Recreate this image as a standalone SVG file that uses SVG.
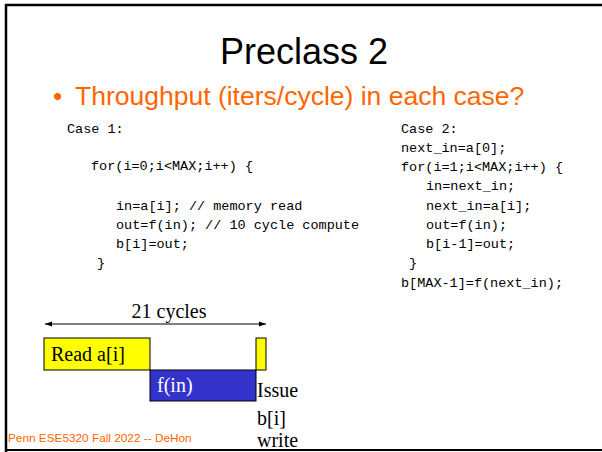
<svg xmlns="http://www.w3.org/2000/svg" width="602" height="452" viewBox="0 0 602 452">
<defs>
<style>
.code{font-family:"Liberation Mono","Courier New",monospace;font-size:13.5px;fill:#000;white-space:pre}
.ser{font-family:"Liberation Serif","Times New Roman",serif;font-size:20px;fill:#000}
.box{stroke:#000;stroke-width:1}
</style>
<marker id="ah" viewBox="0 0 10 10" refX="10" refY="5" markerWidth="7" markerHeight="7" orient="auto-start-reverse" markerUnits="userSpaceOnUse">
<path d="M0,1.5 L10,5 L0,8.5 z" fill="#000"/>
</marker>
</defs>
<rect width="602" height="452" fill="#fff"/>
<path d="M6,452 V5 H602" fill="none" stroke="#000" stroke-width="2.5"/>
<line x1="5" y1="450" x2="602" y2="450" stroke="#000" stroke-width="2"/>

<g id="title">
<text x="304" y="64" text-anchor="middle" font-family="Liberation Sans, Arial, sans-serif" font-size="36" fill="#000">Preclass 2</text>
</g>
<g id="bullet">
<text x="53" y="105" font-family="Liberation Sans, Arial, sans-serif" font-size="26.5" fill="#FF6600">•</text>
<text x="75" y="105" font-family="Liberation Sans, Arial, sans-serif" font-size="26.5" fill="#FF6600">Throughput (iters/cycle) in each case?</text>
</g>

<g id="case1">
<text class="code" x="67" y="133">Case 1:</text>
<text class="code" x="91" y="170">for(i=0;i&lt;MAX;i++) {</text>
<text class="code" x="116" y="210">in=a[i]; // memory read</text>
<text class="code" x="116" y="229">out=f(in); // 10 cycle compute</text>
<text class="code" x="116" y="248">b[i]=out;</text>
<text class="code" x="97" y="267">}</text>
</g>

<g id="case2">
<text class="code" x="401" y="133">Case 2:</text>
<text class="code" x="401" y="152">next_in=a[0];</text>
<text class="code" x="401" y="171">for(i=1;i&lt;MAX;i++) {</text>
<text class="code" x="426" y="190">in=next_in;</text>
<text class="code" x="426" y="210">next_in=a[i];</text>
<text class="code" x="426" y="229">out=f(in);</text>
<text class="code" x="426" y="248">b[i-1]=out;</text>
<text class="code" x="409" y="267">}</text>
<text class="code" x="401" y="287">b[MAX-1]=f(next_in);</text>
</g>

<g id="connectors">
<line x1="45" y1="324" x2="266" y2="324" stroke="#000" stroke-width="1" marker-start="url(#ah)" marker-end="url(#ah)"/>
</g>
<g id="cycles-label">
<text class="ser" x="169" y="318" text-anchor="middle">21 cycles</text>
</g>

<g id="read">
<rect class="box" x="44" y="338" width="106" height="32" fill="#FFFF00"/>
<text class="ser" x="51" y="361">Read a[i]</text>
</g>
<g id="compute">
<rect class="box" x="150" y="370" width="106" height="31" fill="#3333CC"/>
<text class="ser" x="157" y="392" fill="#fff" style="fill:#fff">f(in)</text>
</g>
<g id="write">
<rect class="box" x="256" y="338" width="10" height="32" fill="#FFFF00"/>
<text class="ser" x="257" y="397">Issue</text>
<text class="ser" x="257" y="425">b[i]</text>
<text class="ser" x="257" y="447">write</text>
</g>

<g id="footer">
<text x="8" y="442" font-family="Liberation Sans, Arial, sans-serif" font-size="11.8" fill="#FF6600">Penn ESE5320 Fall 2022 -- DeHon</text>
</g>
</svg>
